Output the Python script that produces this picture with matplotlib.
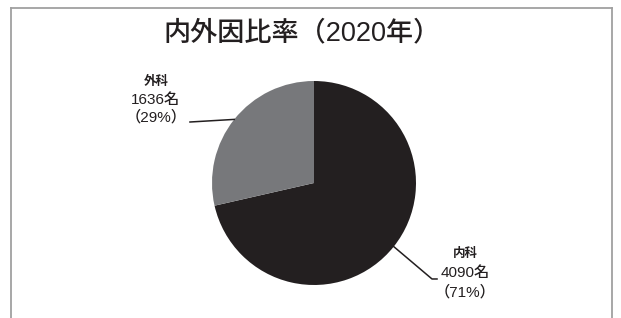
import numpy as np
import matplotlib.pyplot as plt
from matplotlib.lines import Line2D

plt.rcParams['font.family'] = ['Liberation Sans', 'Noto Sans CJK JP', 'DejaVu Sans']

title = '内外因比率（2020年）'
names = ['内科', '外科']
counts = [4090, 1636]
pcts = [71, 29]
colors = ['#231f20', '#77787b']

W, H = 621, 318
fig = plt.figure(figsize=(W / 100, H / 100), dpi=100)

# pie centre / radius in pixels
cx, cy, r = 314, 183, 102
ax = fig.add_axes([(cx - r) / W, (H - cy - r) / H, 2 * r / W, 2 * r / H])
wedges, _ = ax.pie(counts, colors=colors, startangle=90, counterclock=False,
                   radius=1, wedgeprops=dict(linewidth=0))
ax.set_xlim(-1, 1)
ax.set_ylim(-1, 1)
ax.set_aspect('auto')
ax.axis('off')

# frame (left, top, right)
fc = '#a0a0a0'
x0, x1, yt = 10.5 / W, 611.5 / W, 1 - 7.5 / H
for xs, ys in [([x0, x0], [0, yt]), ([x0, x1], [yt, yt]), ([x1, x1], [yt, 0])]:
    fig.add_artist(Line2D(xs, ys, color=fc, lw=1.3, transform=fig.transFigure))

fig.text(302 / W, 1 - 33 / H, title, ha='center', va='center', fontsize=19.5,
         fontweight='medium', color='#231f20')

# leader lines + labels
mid = [np.deg2rad((w.theta1 + w.theta2) / 2) for w in wedges]
kw = dict(ha='center', va='center', color='#231f20')

# 内科
ex, ey = np.cos(mid[0]), np.sin(mid[0])
ax.plot([ex, 1.157, 1.206], [ey, -0.941, -0.941], color='#231f20', lw=1.1,
        clip_on=False)
lx = 1.48
ax.text(lx, -0.70, names[0], fontsize=9, fontweight='bold', **kw)
ax.text(lx, -0.88, f'{counts[0]}名', fontsize=11, fontweight='medium', **kw)
ax.text(lx, -1.075, f'（{pcts[0]}%）', fontsize=11, fontweight='medium', **kw)

# 外科
ex, ey = np.cos(mid[1]), np.sin(mid[1])
ax.plot([ex, -1.216], [ey, 0.598], color='#231f20', lw=1.1, clip_on=False)
lx = -1.55
ax.text(lx, 0.995, names[1], fontsize=9, fontweight='bold', **kw)
ax.text(lx, 0.815, f'{counts[1]}名', fontsize=11, fontweight='medium', **kw)
ax.text(lx, 0.645, f'（{pcts[1]}%）', fontsize=11, fontweight='medium', **kw)

fig.savefig('out.png', dpi=100)
